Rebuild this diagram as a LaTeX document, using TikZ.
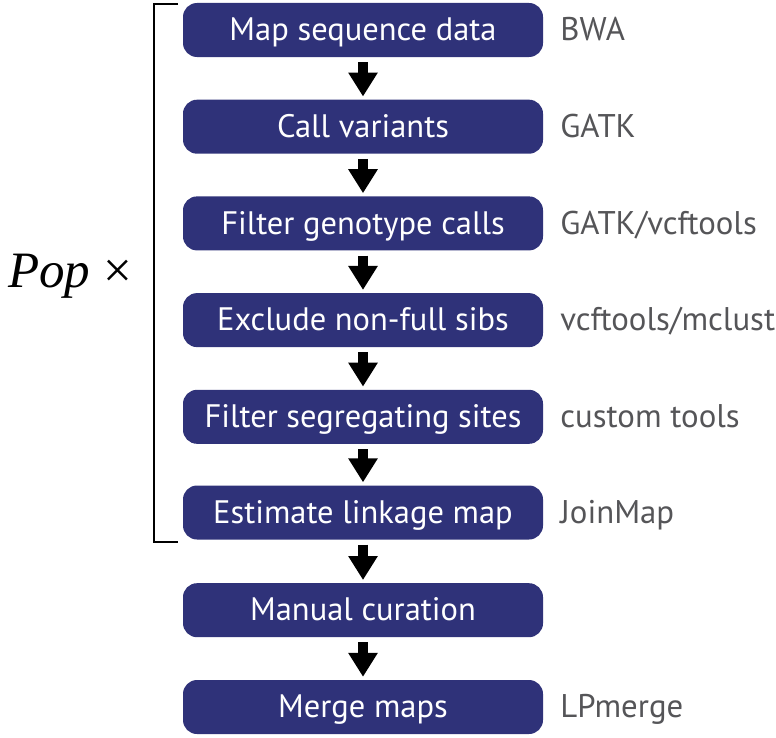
\documentclass[tikz,border=0pt]{standalone}
\usepackage{fontspec}
\setmainfont{Liberation Serif}
\newfontfamily\boxfont{PT Sans}
\usetikzlibrary{arrows.meta}
\definecolor{navy}{RGB}{47,50,121}
\definecolor{labgray}{RGB}{85,85,88}
\begin{document}
\begin{tikzpicture}[x=1bp,y=-1bp,
  stepbox/.style={fill=navy, rounded corners=14bp, minimum width=360bp, minimum height=54bp,
    inner sep=0pt, text=white, font=\boxfont\fontsize{32.5bp}{38bp}\selectfont,
    text height=22.75bp, text depth=1.5bp},
  toollab/.style={text=labgray, font=\boxfont\fontsize{32.8bp}{38bp}\selectfont,
    anchor=base west, inner sep=0pt},
  fat/.style={line width=10bp, -{Triangle[width=28bp,length=24bp]}},
  brk/.style={line width=2.5bp},
]
\useasboundingbox (0,0) rectangle (776,738);

\node[stepbox] (s1) at (363,30.0)  {Map sequence data};
\node[stepbox] (s2) at (363,126.7) {Call variants};
\node[stepbox] (s3) at (363,223.4) {Filter genotype calls};
\node[stepbox] (s4) at (363,320.1) {Exclude non-full sibs};
\node[stepbox] (s5) at (363,416.8) {Filter segregating sites};
\node[stepbox] (s6) at (363,512.5) {Estimate linkage map};
\node[stepbox] (s7) at (363,610.2) {Manual curation};
\node[stepbox] (s8) at (363,707.0) {Merge maps};

\node[toollab] (t1) at ([xshift=17bp,yshift=-10.6bp]s1.east) {BWA};
\node[toollab] (t2) at ([xshift=17bp,yshift=-10.6bp]s2.east) {GATK};
\node[toollab] (t3) at ([xshift=17bp,yshift=-10.6bp]s3.east) {GATK/vcftools};
\node[toollab] (t4) at ([xshift=17bp,yshift=-10.6bp]s4.east) {vcftools/mclust};
\node[toollab] (t5) at ([xshift=17bp,yshift=-10.6bp]s5.east) {custom tools};
\node[toollab] (t6) at ([xshift=17bp,yshift=-10.6bp]s6.east) {JoinMap};
\node[toollab] (t8) at ([xshift=17bp,yshift=-10.6bp]s8.east) {LPmerge};

\foreach \a/\b in {s1/s2,s2/s3,s3/s4,s4/s5,s5/s6,s6/s7,s7/s8}
  \draw[fat] ([yshift=-5bp]\a.south) -- ([yshift=3bp]\b.north);

\coordinate (bt) at (178,4);
\coordinate (bb) at (178,542);
\draw[brk] (bt) -- (154,4) -- (154,542) -- (bb);

\node[anchor=base west, inner sep=0pt, font=\fontsize{51bp}{60bp}\selectfont] (pop) at (8,287) {\textit{Pop} ×};
\end{tikzpicture}
\end{document}
